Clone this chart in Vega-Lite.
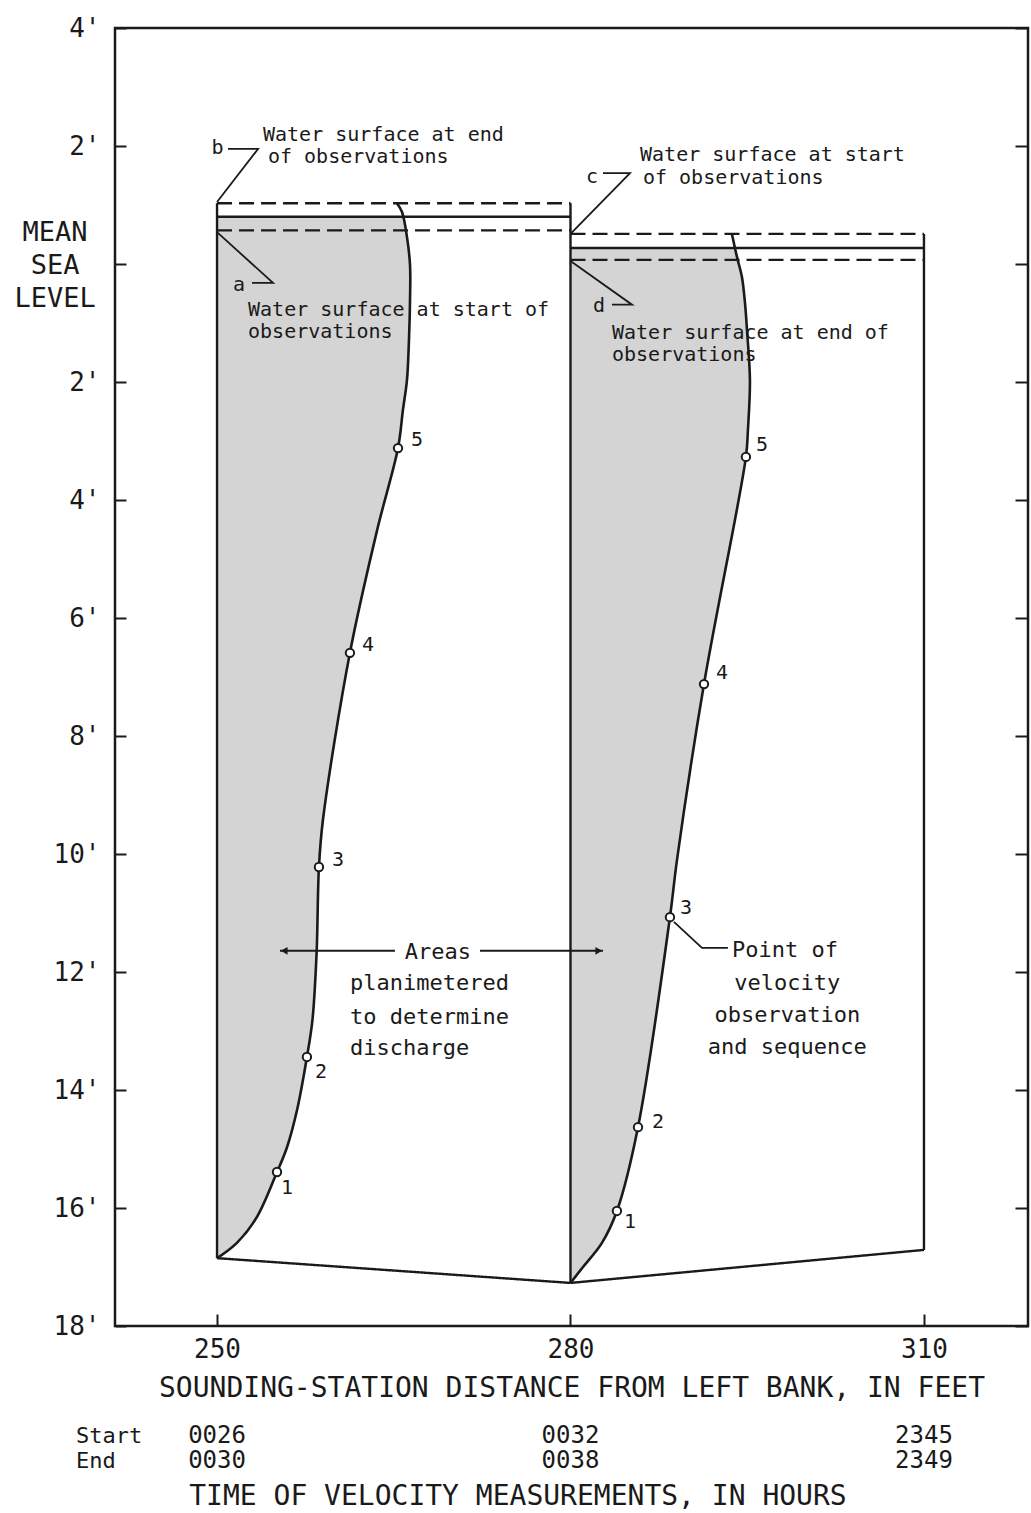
{
  "$schema": "https://vega.github.io/schema/vega-lite/v6.json",
  "width": 913,
  "height": 1298,
  "autosize": {"type": "none"},
  "padding": {"left": 115, "top": 28, "right": 3, "bottom": 187},
  "background": "white",
  "config": {"view": {"stroke": "#1a1a1a", "strokeWidth": 2.5}, "font": "DejaVu Sans Mono"},
  "datasets": {
    "fill": [
      {"side": "L", "base": 250, "x": 265.78, "y": 0.80},
      {"side": "L", "base": 250, "x": 266.12, "y": 0.46},
      {"side": "L", "base": 250, "x": 266.38, "y": -0.02},
      {"side": "L", "base": 250, "x": 266.38, "y": -0.61},
      {"side": "L", "base": 250, "x": 266.29, "y": -1.29},
      {"side": "L", "base": 250, "x": 266.12, "y": -1.97},
      {"side": "L", "base": 250, "x": 265.78, "y": -2.47},
      {"side": "L", "base": 250, "x": 265.36, "y": -3.12},
      {"side": "L", "base": 250, "x": 263.6, "y": -4.5},
      {"side": "L", "base": 250, "x": 261.28, "y": -6.59},
      {"side": "L", "base": 250, "x": 258.99, "y": -9.42},
      {"side": "L", "base": 250, "x": 258.65, "y": -10.22},
      {"side": "L", "base": 250, "x": 258.45, "y": -11.68},
      {"side": "L", "base": 250, "x": 258.1, "y": -12.81},
      {"side": "L", "base": 250, "x": 257.63, "y": -13.44},
      {"side": "L", "base": 250, "x": 256.79, "y": -14.34},
      {"side": "L", "base": 250, "x": 255.94, "y": -14.97},
      {"side": "L", "base": 250, "x": 255.09, "y": -15.39},
      {"side": "L", "base": 250, "x": 253.39, "y": -16.15},
      {"side": "L", "base": 250, "x": 251.69, "y": -16.59},
      {"side": "L", "base": 250, "x": 250.0, "y": -16.85},
      {"side": "R", "base": 280, "x": 293.96, "y": 0.27},
      {"side": "R", "base": 280, "x": 294.55, "y": -0.22},
      {"side": "R", "base": 280, "x": 294.81, "y": -0.66},
      {"side": "R", "base": 280, "x": 294.98, "y": -1.12},
      {"side": "R", "base": 280, "x": 295.23, "y": -1.97},
      {"side": "R", "base": 280, "x": 295.06, "y": -2.81},
      {"side": "R", "base": 280, "x": 294.89, "y": -3.27},
      {"side": "R", "base": 280, "x": 291.33, "y": -7.12},
      {"side": "R", "base": 280, "x": 289.04, "y": -10.10},
      {"side": "R", "base": 280, "x": 288.44, "y": -11.07},
      {"side": "R", "base": 280, "x": 285.73, "y": -14.63},
      {"side": "R", "base": 280, "x": 283.94, "y": -16.05},
      {"side": "R", "base": 280, "x": 282.67, "y": -16.59},
      {"side": "R", "base": 280, "x": 281.06, "y": -17.0},
      {"side": "R", "base": 280, "x": 280.0, "y": -17.27}
    ],
    "curves": [
      {"side": "L", "x": 265.27, "y": 1.03},
      {"side": "L", "x": 265.70, "y": 0.88},
      {"side": "L", "x": 266.12, "y": 0.46},
      {"side": "L", "x": 266.38, "y": -0.02},
      {"side": "L", "x": 266.38, "y": -0.61},
      {"side": "L", "x": 266.29, "y": -1.29},
      {"side": "L", "x": 266.12, "y": -1.97},
      {"side": "L", "x": 265.78, "y": -2.47},
      {"side": "L", "x": 265.36, "y": -3.12},
      {"side": "L", "x": 263.6, "y": -4.5},
      {"side": "L", "x": 261.28, "y": -6.59},
      {"side": "L", "x": 258.99, "y": -9.42},
      {"side": "L", "x": 258.65, "y": -10.22},
      {"side": "L", "x": 258.45, "y": -11.68},
      {"side": "L", "x": 258.1, "y": -12.81},
      {"side": "L", "x": 257.63, "y": -13.44},
      {"side": "L", "x": 256.79, "y": -14.34},
      {"side": "L", "x": 255.94, "y": -14.97},
      {"side": "L", "x": 255.09, "y": -15.39},
      {"side": "L", "x": 253.39, "y": -16.15},
      {"side": "L", "x": 251.69, "y": -16.59},
      {"side": "L", "x": 250.0, "y": -16.85},
      {"side": "R", "x": 293.70, "y": 0.51},
      {"side": "R", "x": 294.13, "y": 0.12},
      {"side": "R", "x": 294.55, "y": -0.22},
      {"side": "R", "x": 294.81, "y": -0.66},
      {"side": "R", "x": 294.98, "y": -1.12},
      {"side": "R", "x": 295.23, "y": -1.97},
      {"side": "R", "x": 295.06, "y": -2.81},
      {"side": "R", "x": 294.89, "y": -3.27},
      {"side": "R", "x": 291.33, "y": -7.12},
      {"side": "R", "x": 289.04, "y": -10.10},
      {"side": "R", "x": 288.44, "y": -11.07},
      {"side": "R", "x": 285.73, "y": -14.63},
      {"side": "R", "x": 283.94, "y": -16.05},
      {"side": "R", "x": 282.67, "y": -16.59},
      {"side": "R", "x": 281.06, "y": -17.0},
      {"side": "R", "x": 280.0, "y": -17.27}
    ],
    "segs": [
      {"kind": "solid", "x": 250, "x2": 250, "y": 1.03, "y2": -16.85},
      {"kind": "solid", "x": 280, "x2": 280, "y": 1.03, "y2": -17.27},
      {"kind": "solid", "x": 310, "x2": 310, "y": 0.51, "y2": -16.71},
      {"kind": "solid", "x": 250, "x2": 280, "y": -16.85, "y2": -17.27},
      {"kind": "solid", "x": 280, "x2": 310, "y": -17.27, "y2": -16.71},
      {"kind": "solid", "x": 250, "x2": 280, "y": 0.80, "y2": 0.80},
      {"kind": "solid", "x": 280, "x2": 310, "y": 0.27, "y2": 0.27},
      {"kind": "dashed", "x": 250, "x2": 280, "y": 1.03, "y2": 1.03},
      {"kind": "dashed", "x": 250, "x2": 280, "y": 0.57, "y2": 0.57},
      {"kind": "dashed", "x": 280, "x2": 310, "y": 0.51, "y2": 0.51},
      {"kind": "dashed", "x": 280, "x2": 310, "y": 0.07, "y2": 0.07}
    ],
    "leaders": [
      {"id": "b", "i": 0, "x": 250.93, "y": 1.95},
      {"id": "b", "i": 1, "x": 253.48, "y": 1.95},
      {"id": "b", "i": 2, "x": 250.0, "y": 1.05},
      {"id": "a", "i": 0, "x": 252.97, "y": -0.32},
      {"id": "a", "i": 1, "x": 254.75, "y": -0.32},
      {"id": "a", "i": 2, "x": 250.0, "y": 0.54},
      {"id": "c", "i": 0, "x": 282.76, "y": 1.54},
      {"id": "c", "i": 1, "x": 285.05, "y": 1.54},
      {"id": "c", "i": 2, "x": 280.0, "y": 0.51},
      {"id": "d", "i": 0, "x": 283.52, "y": -0.69},
      {"id": "d", "i": 1, "x": 285.22, "y": -0.69},
      {"id": "d", "i": 2, "x": 280.0, "y": 0.05},
      {"id": "p", "i": 0, "x": 288.78, "y": -11.15},
      {"id": "p", "i": 1, "x": 291.16, "y": -11.59},
      {"id": "p", "i": 2, "x": 293.36, "y": -11.59},
      {"id": "areasL", "i": 0, "x": 255.34, "y": -11.64},
      {"id": "areasL", "i": 1, "x": 265.10, "y": -11.64},
      {"id": "areasR", "i": 0, "x": 272.32, "y": -11.64},
      {"id": "areasR", "i": 1, "x": 282.76, "y": -11.64}
    ],
    "arrows": [
      {"dir": "left", "x": 255.7, "y": -11.64},
      {"dir": "right", "x": 282.4, "y": -11.64}
    ],
    "obs": [
      {"side": "L", "seq": 1, "x": 255.09, "y": -15.39},
      {"side": "L", "seq": 2, "x": 257.63, "y": -13.44},
      {"side": "L", "seq": 3, "x": 258.65, "y": -10.22},
      {"side": "L", "seq": 4, "x": 261.28, "y": -6.59},
      {"side": "L", "seq": 5, "x": 265.36, "y": -3.12},
      {"side": "R", "seq": 1, "x": 283.94, "y": -16.05},
      {"side": "R", "seq": 2, "x": 285.73, "y": -14.63},
      {"side": "R", "seq": 3, "x": 288.44, "y": -11.07},
      {"side": "R", "seq": 4, "x": 291.33, "y": -7.12},
      {"side": "R", "seq": 5, "x": 294.89, "y": -3.27}
    ],
    "labels": [
      {"role": "letter", "text": "b", "x": 250.04, "y": 1.97},
      {"role": "letter", "text": "a", "x": 251.86, "y": -0.36},
      {"role": "letter", "text": "c", "x": 281.82, "y": 1.47},
      {"role": "letter", "text": "d", "x": 282.42, "y": -0.71},
      {"role": "note", "text": "Water surface at end", "x": 253.90, "y": 2.19},
      {"role": "note", "text": "of observations", "x": 254.32, "y": 1.81},
      {"role": "note", "text": "Water surface at start of", "x": 252.63, "y": -0.78},
      {"role": "note", "text": "observations", "x": 252.63, "y": -1.15},
      {"role": "note", "text": "Water surface at start", "x": 285.90, "y": 1.85},
      {"role": "note", "text": "of observations", "x": 286.15, "y": 1.46},
      {"role": "note", "text": "Water surface at end of", "x": 283.52, "y": -1.17},
      {"role": "note", "text": "observations", "x": 283.52, "y": -1.54},
      {"role": "seq", "text": "5", "x": 266.97, "y": -2.98},
      {"role": "seq", "text": "4", "x": 262.81, "y": -6.46},
      {"role": "seq", "text": "3", "x": 260.27, "y": -10.10},
      {"role": "seq", "text": "2", "x": 258.82, "y": -13.69},
      {"role": "seq", "text": "1", "x": 255.94, "y": -15.66},
      {"role": "seq", "text": "5", "x": 296.25, "y": -3.07},
      {"role": "seq", "text": "4", "x": 292.85, "y": -6.93},
      {"role": "seq", "text": "3", "x": 289.80, "y": -10.92},
      {"role": "seq", "text": "2", "x": 287.42, "y": -14.54},
      {"role": "seq", "text": "1", "x": 285.05, "y": -16.24},
      {"role": "areasHead", "text": "Areas", "x": 268.75, "y": -11.66},
      {"role": "areas", "text": "planimetered", "x": 261.28, "y": -12.19},
      {"role": "areas", "text": "to determine", "x": 261.28, "y": -12.76},
      {"role": "areas", "text": "discharge", "x": 261.28, "y": -13.29},
      {"role": "point", "text": "Point of", "x": 298.2, "y": -11.63},
      {"role": "point", "text": "velocity", "x": 298.4, "y": -12.19},
      {"role": "point", "text": "observation", "x": 298.4, "y": -12.73},
      {"role": "point", "text": "and sequence", "x": 298.4, "y": -13.27},
      {"role": "time", "text": "0026", "x": 250, "y": -19.86},
      {"role": "time", "text": "0030", "x": 250, "y": -20.29},
      {"role": "time", "text": "0032", "x": 280, "y": -19.86},
      {"role": "time", "text": "0038", "x": 280, "y": -20.29},
      {"role": "time", "text": "2345", "x": 310, "y": -19.86},
      {"role": "time", "text": "2349", "x": 310, "y": -20.29},
      {"role": "rowlabel", "text": "Start", "x": 238.03, "y": -19.86},
      {"role": "rowlabel", "text": "End", "x": 238.03, "y": -20.29},
      {"role": "timetitle", "text": "TIME OF VELOCITY MEASUREMENTS, IN HOURS", "x": 275.54, "y": -20.90},
      {"role": "msl", "text": "MEAN\nSEA\nLEVEL", "x": 236.25, "y": 0.53}
    ]
  },
  "encoding": {
    "x": {
      "field": "x", "type": "quantitative",
      "scale": {"domain": [241.34, 318.83], "nice": false, "zero": false},
      "axis": {
        "values": [250, 280, 310], "tickSize": -12, "tickWidth": 2, "tickColor": "#1a1a1a",
        "domain": false, "grid": false, "labelFlush": false,
        "labelFont": "DejaVu Sans Mono", "labelFontSize": 26, "labelColor": "#1a1a1a", "labelPadding": 22,
        "title": "SOUNDING-STATION DISTANCE FROM LEFT BANK, IN FEET",
        "titleFont": "DejaVu Sans Mono", "titleFontSize": 28, "titleFontWeight": "normal",
        "titleColor": "#1a1a1a", "titlePadding": 12
      }
    },
    "y": {
      "field": "y", "type": "quantitative",
      "scale": {"domain": [-18, 4], "nice": false, "zero": false},
      "axis": null
    }
  },
  "resolve": {"axis": {"y": "independent"}},
  "layer": [
    {
      "data": {"name": "fill"},
      "mark": {"type": "area", "orient": "horizontal", "interpolate": "catmull-rom", "color": "#d4d4d4"},
      "encoding": {
        "y": {
          "field": "y", "type": "quantitative",
          "scale": {"domain": [-18, 4], "nice": false, "zero": false},
          "axis": {
            "values": [-18, -16, -14, -12, -10, -8, -6, -4, -2, 0, 2, 4],
            "labelExpr": "datum.value == 0 ? '' : abs(datum.value) + \"'\"",
            "tickSize": -11, "tickWidth": 2, "tickColor": "#1a1a1a",
            "domain": false, "grid": false, "labelFlush": false,
            "labelFont": "DejaVu Sans Mono", "labelFontSize": 26, "labelColor": "#1a1a1a",
            "labelPadding": 26, "title": null
          }
        },
        "x2": {"field": "base"},
        "detail": {"field": "side"}
      }
    },
    {
      "data": {"name": "segs"},
      "mark": {"type": "rule", "color": "#1a1a1a", "strokeWidth": 2.4},
      "encoding": {
        "x2": {"field": "x2"},
        "y": {
          "field": "y", "type": "quantitative",
          "scale": {"domain": [-18, 4], "nice": false, "zero": false},
          "axis": {
            "orient": "right",
            "values": [-18, -16, -14, -12, -10, -8, -6, -4, -2, 0, 2, 4],
            "labels": false, "tickSize": -13, "tickWidth": 2, "tickColor": "#1a1a1a",
            "domain": false, "grid": false, "title": null
          }
        },
        "y2": {"field": "y2"},
        "strokeDash": {
          "field": "kind", "type": "nominal",
          "scale": {"domain": ["solid", "dashed"], "range": [[1, 0], [15, 7]]},
          "legend": null
        }
      }
    },
    {
      "data": {"name": "curves"},
      "mark": {"type": "line", "interpolate": "catmull-rom", "color": "#1a1a1a", "strokeWidth": 2.6},
      "encoding": {
        "detail": {"field": "side"},
        "order": {"field": "y", "type": "quantitative"}
      }
    },
    {
      "data": {"name": "leaders"},
      "mark": {"type": "line", "color": "#1a1a1a", "strokeWidth": 1.8},
      "encoding": {
        "detail": {"field": "id"},
        "order": {"field": "i", "type": "quantitative"}
      }
    },
    {
      "data": {"name": "arrows"},
      "mark": {"type": "point", "filled": true, "color": "#1a1a1a", "size": 60, "opacity": 1},
      "encoding": {
        "shape": {
          "field": "dir", "type": "nominal",
          "scale": {"domain": ["left", "right"], "range": ["triangle-left", "triangle-right"]},
          "legend": null
        }
      }
    },
    {
      "data": {"name": "obs"},
      "mark": {"type": "point", "shape": "circle", "filled": true, "fill": "white", "stroke": "#1a1a1a", "strokeWidth": 2, "size": 70, "opacity": 1}
    },
    {
      "data": {"name": "labels"},
      "transform": [{"filter": "datum.role == 'note'"}],
      "mark": {"type": "text", "align": "left", "baseline": "middle", "fontSize": 20, "font": "DejaVu Sans Mono", "color": "#1a1a1a"},
      "encoding": {"text": {"field": "text"}}
    },
    {
      "data": {"name": "labels"},
      "transform": [{"filter": "datum.role == 'letter' || datum.role == 'seq'"}],
      "mark": {"type": "text", "align": "center", "baseline": "middle", "fontSize": 20, "font": "DejaVu Sans Mono", "color": "#1a1a1a"},
      "encoding": {"text": {"field": "text"}}
    },
    {
      "data": {"name": "labels"},
      "transform": [{"filter": "datum.role == 'areas'"}],
      "mark": {"type": "text", "align": "left", "baseline": "middle", "fontSize": 22, "font": "DejaVu Sans Mono", "color": "#1a1a1a"},
      "encoding": {"text": {"field": "text"}}
    },
    {
      "data": {"name": "labels"},
      "transform": [{"filter": "datum.role == 'areasHead' || datum.role == 'point'"}],
      "mark": {"type": "text", "align": "center", "baseline": "middle", "fontSize": 22, "font": "DejaVu Sans Mono", "color": "#1a1a1a"},
      "encoding": {"text": {"field": "text"}}
    },
    {
      "data": {"name": "labels"},
      "transform": [{"filter": "datum.role == 'time'"}],
      "mark": {"type": "text", "align": "center", "baseline": "middle", "fontSize": 24, "font": "DejaVu Sans Mono", "color": "#1a1a1a"},
      "encoding": {"text": {"field": "text"}}
    },
    {
      "data": {"name": "labels"},
      "transform": [{"filter": "datum.role == 'rowlabel'"}],
      "mark": {"type": "text", "align": "left", "baseline": "middle", "fontSize": 22, "font": "DejaVu Sans Mono", "color": "#1a1a1a"},
      "encoding": {"text": {"field": "text"}}
    },
    {
      "data": {"name": "labels"},
      "transform": [{"filter": "datum.role == 'timetitle'"}],
      "mark": {"type": "text", "align": "center", "baseline": "middle", "fontSize": 28, "font": "DejaVu Sans Mono", "color": "#1a1a1a"},
      "encoding": {"text": {"field": "text"}}
    },
    {
      "data": {"name": "labels"},
      "transform": [{"filter": "datum.role == 'msl'"}],
      "mark": {"type": "text", "align": "center", "baseline": "middle", "fontSize": 27, "font": "DejaVu Sans Mono", "color": "#1a1a1a", "lineBreak": "\n", "lineHeight": 33},
      "encoding": {"text": {"field": "text"}}
    }
  ]
}
